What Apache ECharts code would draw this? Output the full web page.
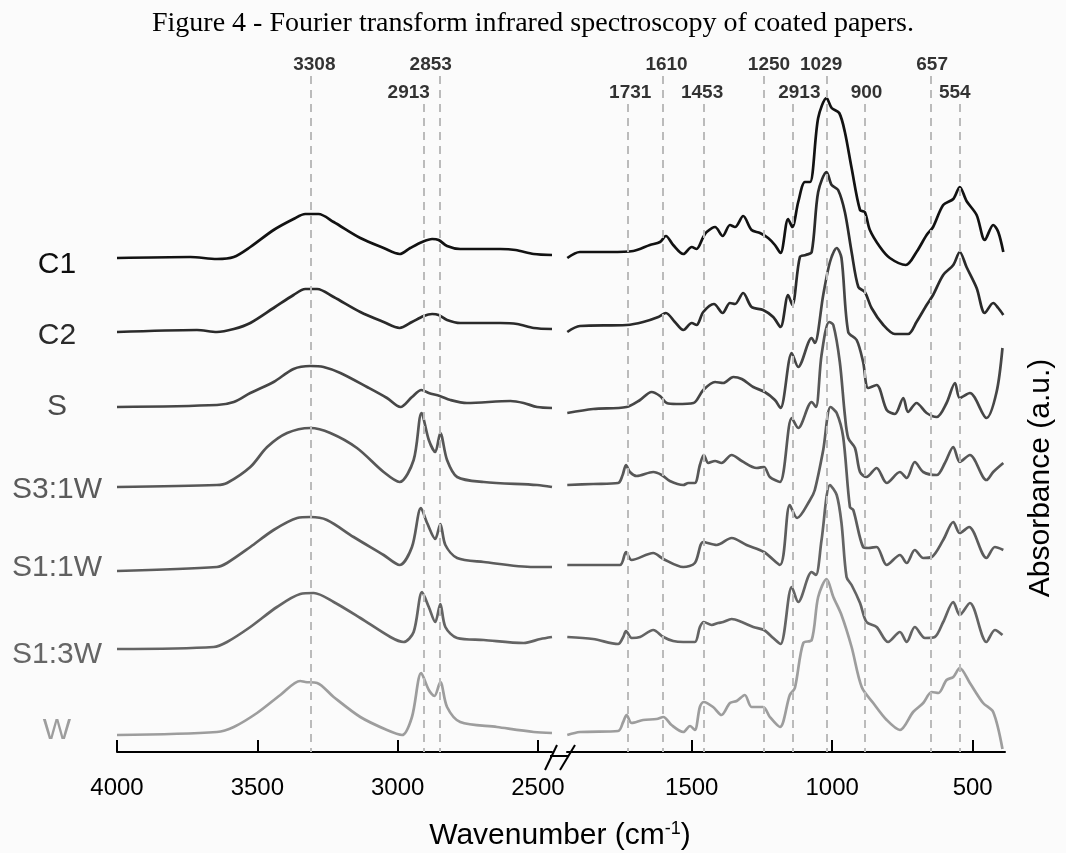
<!DOCTYPE html>
<html>
<head>
<meta charset="utf-8">
<script src="https://cdn.jsdelivr.net/npm/echarts@6/dist/echarts.min.js"></script>
<style>html,body{margin:0;padding:0;background:#fbfbfb;}#c{width:1066px;height:853px;}</style>
</head>
<body>
<div id="c"></div>
<script>
// ---- data: [wavenumber (cm-1), stacked absorbance (a.u.)] ----
const seriesNames = ['C1','C2','S','S3:1W','S1:1W','S1:3W','W'];

const leftC1 = [[4000,494],[3739,495],[3644,493],[3584,495],[3525,505],[3442,522],[3371,533],[3329,538],[3282,538],[3228,530],[3133,514],[3050,504],[2993,498],[2955,504],[2913,510],[2877,513],[2854,512],[2824,506],[2777,503],[2634,503],[2580,502],[2515,498],[2450,497]];
const rightC1 = [[1943,494],[1898,500],[1791,500],[1708,501],[1649,507],[1613,510],[1592,516],[1566,507],[1530,498],[1500,505],[1483,503],[1459,515],[1447,520],[1417,525],[1390,516],[1364,527],[1346,525],[1317,536],[1287,522],[1257,519],[1228,514],[1204,507],[1184,499],[1157,533],[1142,525],[1121,550],[1097,570],[1079,570],[1050,634],[1020,654],[1002,644],[975,639],[955,620],[931,584],[901,542],[884,540],[866,522],[830,505],[795,494],[738,487],[700,500],[664,517],[641,525],[605,547],[569,553],[546,565],[522,551],[486,537],[457,512],[427,527],[409,520],[391,500]];

const leftC2 = [[4000,420],[3715,422],[3644,420],[3584,423],[3525,429],[3442,444],[3371,457],[3329,463],[3287,463],[3228,455],[3133,440],[3050,430],[2993,424],[2949,430],[2907,436],[2877,438],[2854,437],[2824,432],[2777,429],[2634,429],[2574,428],[2515,424],[2450,423]];
const rightC2 = [[1943,420],[1898,426],[1732,427],[1673,430],[1619,435],[1592,439],[1560,430],[1530,422],[1500,429],[1483,427],[1459,440],[1421,448],[1390,439],[1364,449],[1346,448],[1317,459],[1287,445],[1246,442],[1210,435],[1184,425],[1157,457],[1142,447],[1115,495],[1094,497],[1073,500],[1050,560],[1020,580],[1002,567],[979,562],[955,540],[931,500],[907,465],[884,460],[860,444],[818,427],[777,418],[730,418],[700,430],[664,447],[641,457],[605,477],[569,487],[546,500],[522,485],[486,464],[457,439],[427,449],[409,444],[391,437]];

const leftS = [[4000,345],[3644,347],[3584,350],[3525,359],[3442,370],[3371,383],[3311,386],[3264,385],[3204,379],[3109,365],[3038,354],[2990,345],[2949,355],[2915,362],[2889,359],[2850,356],[2812,352],[2753,349],[2598,351],[2551,349],[2503,345],[2450,344]];
const rightS = [[1943,339],[1851,343],[1732,345],[1684,352],[1643,360],[1613,356],[1589,349],[1554,348],[1494,349],[1459,362],[1417,370],[1388,369],[1352,375],[1322,373],[1281,365],[1240,360],[1204,352],[1184,344],[1144,399],[1121,385],[1073,414],[1062,409],[1032,457],[1008,490],[984,504],[967,494],[943,420],[913,412],[890,390],[872,364],[842,367],[806,342],[777,338],[747,354],[730,340],[700,349],[664,339],[628,335],[593,349],[563,369],[546,354],[510,359],[451,334],[415,360],[394,404]];

const leftS31 = [[4000,265],[3644,267],[3608,269],[3525,285],[3465,305],[3394,319],[3311,324],[3240,319],[3145,304],[3050,280],[2993,270],[2943,292],[2915,339],[2889,312],[2866,300],[2848,319],[2824,292],[2788,275],[2693,270],[2503,267],[2450,265]];
const rightS31 = [[1943,267],[1851,268],[1762,269],[1746,277],[1734,287],[1720,280],[1696,276],[1637,280],[1607,277],[1578,271],[1530,267],[1512,269],[1489,269],[1471,287],[1457,297],[1441,289],[1417,291],[1394,289],[1358,297],[1322,291],[1269,284],[1243,285],[1222,275],[1186,270],[1144,334],[1121,324],[1073,350],[1058,345],[1038,397],[1011,430],[996,427],[973,390],[955,337],[943,314],[919,304],[901,280],[878,275],[842,284],[806,269],[759,280],[735,274],[706,290],[676,280],[628,277],[599,289],[569,305],[546,290],[510,297],[451,272],[427,280],[391,289]];

const leftS11 = [[4000,181],[3644,185],[3608,189],[3525,205],[3442,222],[3358,234],[3311,235],[3252,232],[3157,215],[3050,197],[2993,187],[2949,205],[2917,244],[2895,229],[2866,213],[2848,228],[2830,207],[2788,194],[2693,190],[2515,185],[2450,185]];
const rightS11 = [[1943,187],[1756,187],[1734,200],[1714,192],[1637,199],[1601,193],[1530,185],[1489,189],[1459,210],[1411,207],[1358,214],[1305,207],[1243,200],[1186,187],[1151,247],[1125,234],[1079,252],[1062,262],[1032,302],[1006,345],[984,339],[961,315],[937,245],[925,242],[890,205],[872,204],[842,205],[806,187],[759,197],[735,189],[706,202],[676,194],[646,195],[605,212],[569,230],[546,219],[513,225],[451,194],[421,205],[391,202]];

const leftS13 = [[4000,103],[3656,105],[3608,110],[3525,125],[3430,145],[3347,158],[3299,159],[3228,150],[3133,134],[3026,115],[2979,110],[2943,120],[2913,160],[2889,145],[2866,130],[2848,148],[2830,125],[2788,114],[2693,112],[2551,109],[2491,113],[2450,115]];
const rightS13 = [[1943,115],[1851,113],[1762,108],[1744,115],[1734,121],[1714,114],[1684,115],[1637,122],[1601,115],[1566,111],[1530,110],[1489,110],[1471,125],[1457,130],[1429,127],[1406,129],[1388,130],[1358,133],[1322,130],[1281,125],[1243,122],[1210,114],[1184,108],[1144,165],[1121,150],[1073,180],[1058,177],[1038,212],[1008,267],[984,257],[967,229],[949,175],[931,167],[901,149],[878,130],[842,125],[801,110],[759,120],[735,110],[706,125],[670,114],[635,115],[605,130],[569,150],[546,137],[510,149],[451,110],[421,122],[394,117]];

const leftW = [[4000,17],[3644,20],[3584,25],[3501,39],[3418,57],[3347,71],[3329,70],[3287,69],[3228,55],[3133,35],[3038,22],[2984,17],[2949,35],[2916,79],[2889,62],[2869,56],[2848,70],[2824,45],[2777,30],[2646,25],[2515,20],[2450,19]];
const rightW = [[1943,17],[1898,20],[1762,21],[1744,30],[1732,37],[1714,29],[1673,32],[1625,33],[1601,35],[1572,27],[1530,20],[1506,26],[1489,22],[1471,45],[1457,50],[1424,45],[1394,37],[1364,49],[1340,51],[1311,57],[1287,45],[1246,45],[1222,35],[1186,25],[1151,57],[1133,64],[1103,109],[1073,112],[1050,155],[1020,173],[996,155],[967,137],[931,105],[895,65],[854,49],[806,32],[759,22],[712,40],[676,49],[646,60],[622,59],[593,72],[569,75],[546,84],[510,69],[463,49],[427,40],[394,3]];

const leftSets = [leftC1, leftC2, leftS, leftS31, leftS11, leftS13, leftW];
const rightSets = [rightC1, rightC2, rightS, rightS31, rightS11, rightS13, rightW];

// peak markers
const peakTextLeft = ['3308','2853','2913'];
const peakPosLeft = [3311, 2850, 2907];
const peakRowLeft = [1, 1, 2];
const peakTextRight = ['1731','1610','1453','1250','2913','1029','900','657','554'];
const peakPosRight = [1726, 1604, 1456, 1243, 1142, 1018, 885, 648, 546];
const peakRowRight = [2, 1, 2, 1, 2, 1, 2, 1, 2];

const ticksLeft = [4000, 3500, 3000, 2500];
const ticksRight = [1500, 1000, 500];

// ---- styling ----
const lineColors = ['#121212','#2a2a2a','#464646','#575757','#5c5c5c','#646464','#9d9d9d'];
const labelColors = ['#0e0e0e','#2a2a2a','#4a4a4a','#5a5a5a','#606060','#666666','#9d9d9d'];
const peakDxLeft = [4, -9, -15];
const peakDxRight = [2, 4, -2, 5, 7, -6, 2, 1, -5];
const rowLabelY = {1: 687, 2: 659};
const rowLineTop = {1: 676, 2: 648};

const chart = echarts.init(document.getElementById('c'), null, {renderer: 'canvas'});
const FONT = 'Liberation Sans, Arial, sans-serif';
const NARROW = 'Liberation Sans Narrow, Liberation Sans, Arial, sans-serif';

function axisX(gi, min, max, ticks) {
  return {
    gridIndex: gi, type: 'value', min: min, max: max, inverse: true,
    axisLine: {show: true, lineStyle: {color: '#000', width: 2}},
    axisTick: {show: true, inside: true, length: 12, lineStyle: {color: '#000', width: 2}, customValues: ticks},
    axisLabel: {show: true, customValues: ticks, formatter: v => String(v), fontSize: 24, color: '#000', fontFamily: FONT, margin: 20},
    splitLine: {show: false}
  };
}
function axisY(gi) {
  return {gridIndex: gi, type: 'value', min: -4, max: 692, show: false, splitLine: {show: false}};
}

const series = [];
for (let i = 0; i < seriesNames.length; i++) {
  [[leftSets[i], 0], [rightSets[i], 1]].forEach(([d, gi]) => {
    series.push({
      type: 'line', name: seriesNames[i], xAxisIndex: gi, yAxisIndex: gi,
      data: d, showSymbol: false, symbol: 'none', smooth: 0.3, clip: false,
      lineStyle: {color: lineColors[i], width: 2.7}, silent: true, z: 3
    });
  });
}

function peakSeries(gi, pos, txt, row, dx) {
  return {
    type: 'scatter', xAxisIndex: gi, yAxisIndex: gi, symbolSize: 0, silent: true, z: 5,
    data: pos.map((p, k) => ({value: [p, rowLabelY[row[k]]], name: txt[k], label: {offset: [dx[k], 0]}})),
    label: {show: true, position: 'inside', formatter: p => p.name, fontSize: 19, fontWeight: 'bold', color: '#000', fontFamily: NARROW},
    markLine: {
      silent: true, symbol: ['none', 'none'], label: {show: false},
      lineStyle: {color: '#bbbbbb', width: 2, type: [8, 6]},
      data: pos.map((p, k) => [{coord: [p, rowLineTop[row[k]]]}, {coord: [p, 0]}])
    }
  };
}
series.push(peakSeries(0, peakPosLeft, peakTextLeft, peakRowLeft, peakDxLeft));
series.push(peakSeries(1, peakPosRight, peakTextRight, peakRowRight, peakDxRight));

const labelY = [265, 336, 407, 490, 568, 655, 731];
const graphics = [
  {type: 'line', shape: {x1: 550, y1: 756, x2: 569, y2: 756}, style: {stroke: '#000', lineWidth: 2}},
  {type: 'line', shape: {x1: 545, y1: 770, x2: 557, y2: 745}, style: {stroke: '#000', lineWidth: 2}},
  {type: 'line', shape: {x1: 560, y1: 770, x2: 575, y2: 745}, style: {stroke: '#000', lineWidth: 2}},
  {type: 'text', x: 560, y: 836, style: {text: 'Wavenumber (cm{sup|-1})', font: '30px ' + FONT, fill: '#000', align: 'center', verticalAlign: 'middle',
    rich: {sup: {fontSize: 18, padding: [0, 0, 14, 0], fontFamily: FONT}}}},
  {type: 'text', x: 1041, y: 478, rotation: Math.PI / 2, style: {text: 'Absorbance (a.u.)', font: '30px ' + FONT, fill: '#000', align: 'center', verticalAlign: 'middle'}}
];
seriesNames.forEach((n, i) => {
  graphics.push({type: 'text', x: 57, y: labelY[i], style: {text: n, font: '30px ' + FONT, fill: labelColors[i], align: 'center', verticalAlign: 'middle'}});
});

chart.setOption({
  backgroundColor: '#fbfbfb',
  animation: false,
  textStyle: {fontFamily: FONT},
  title: {text: 'Figure 4 - Fourier transform infrared spectroscopy of coated papers.', left: 'center', top: 5,
    textStyle: {fontFamily: 'Liberation Serif, Times New Roman, serif', fontSize: 28, fontWeight: 'normal', color: '#000'}},
  grid: [
    {left: 117, width: 435, top: 60, bottom: 97},
    {left: 567, width: 438, top: 60, bottom: 97}
  ],
  xAxis: [axisX(0, 2450, 4000, ticksLeft), axisX(1, 385, 1944, ticksRight)],
  yAxis: [axisY(0), axisY(1)],
  series: series,
  graphic: graphics
});
</script>
</body>
</html>
